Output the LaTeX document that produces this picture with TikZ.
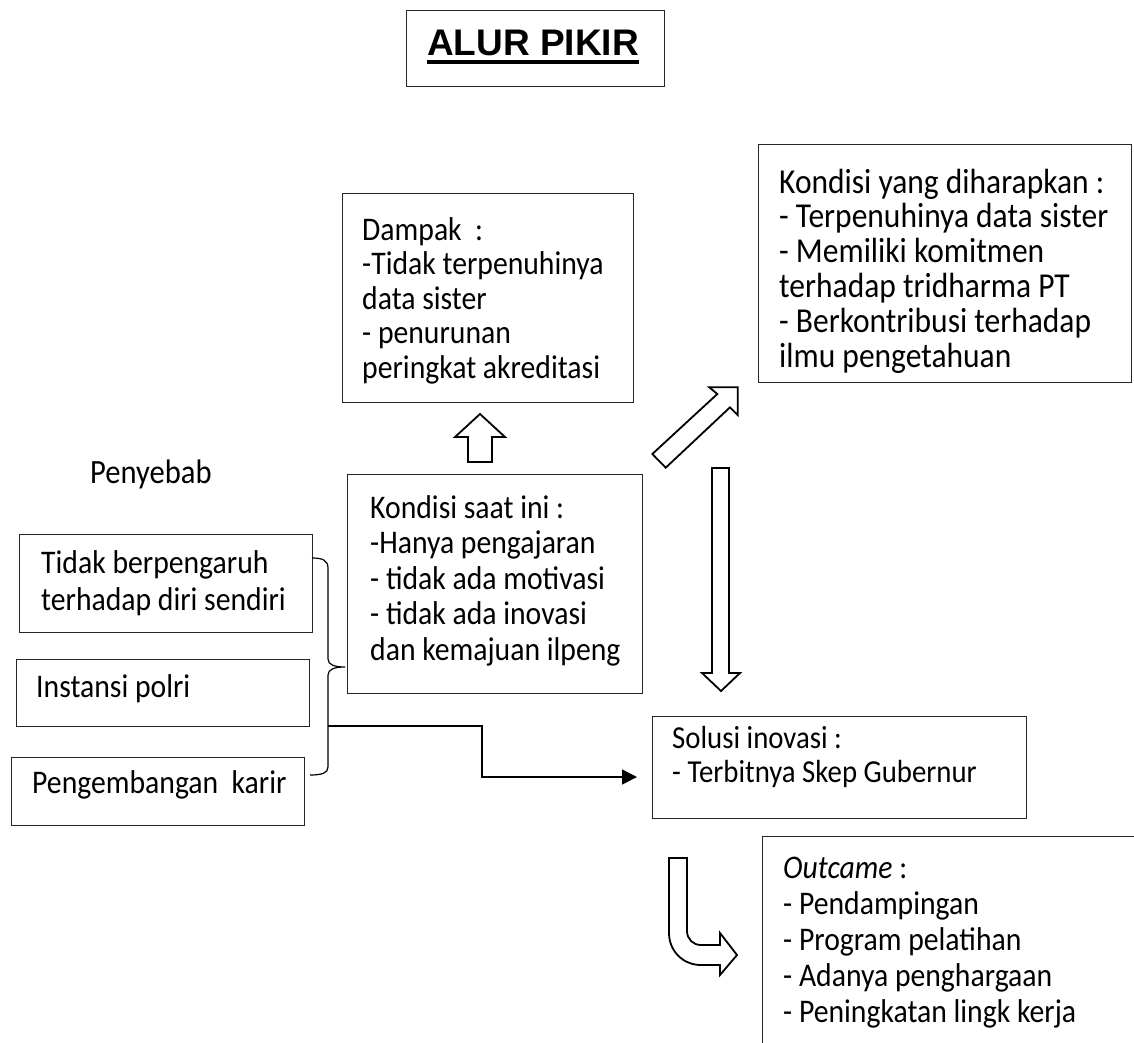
\documentclass[tikz,border=0pt]{standalone}
\usepackage{fontspec}
\setmainfont{Carlito}[FakeStretch=0.9]
\newfontfamily\titlefont{Liberation Sans}
\usetikzlibrary{arrows.meta,calc}

\tikzset{
  box/.style={draw=black!85, line width=1.2pt, rectangle, inner sep=0pt, anchor=north west},
  txt/.style={inner sep=0pt, anchor=base west, align=left, text width=400pt,
              font=\fontsize{33}{35}\selectfont,
              execute at begin node={\spaceskip=0pt\xspaceskip=0pt\relax}},
  blockarrow/.style={draw=black, line width=1.8pt, fill=white, line join=miter},
  link/.style={draw=black, line width=1.4pt},
}

\begin{document}
\begin{tikzpicture}[x=1pt,y=-1pt]
\path[use as bounding box] (0,0) rectangle (1134,1042);
\clip (0,0) rectangle (1134,1042);
\fill[white] (0,0) rectangle (1134,1042);

% title
\node[box, minimum width=258, minimum height=76] (titlebox) at (406,10) {};
\node[font=\titlefont\bfseries\fontsize{37}{40}\selectfont, inner sep=0pt, anchor=base] (title) at (533,55) {ALUR PIKIR};
\draw[line width=3.5pt] ($(title.base west)+(0,7)$) -- ($(title.base east)+(0,7)$);

% impact
\node[box, minimum width=291, minimum height=209] (dampak) at (342,193) {};
\node[txt, font=\fontsize{33}{34.5}\selectfont] (dampakT) at (362,240)
  {Dampak\ \ :\\-Tidak terpenuhinya\\data sister\\- penurunan\\peringkat akreditasi};

% expected condition
\node[box, minimum width=373, minimum height=238] (harap) at (758,144) {};
\node[txt, font=\fontsize{35}{34.8}\selectfont] (harapT) at (779,193)
  {Kondisi yang diharapkan :\\- Terpenuhinya data sister\\- Memiliki komitmen\\terhadap tridharma PT\\- Berkontribusi terhadap\\ilmu pengetahuan};

% current condition
\node[box, minimum width=295, minimum height=219] (kini) at (347,474) {};
\node[txt, font=\fontsize{33}{35.5}\selectfont] (kiniT) at (370,518)
  {Kondisi saat ini :\\-Hanya pengajaran\\- tidak ada motivasi\\- tidak ada inovasi\\dan kemajuan ilpeng};

% causes
\node[txt, font=\fontsize{34}{35}\selectfont] (penyebab) at (90,483) {Penyebab};
\node[box, minimum width=293, minimum height=98] (sebab1) at (19,534) {};
\node[txt, font=\fontsize{33}{37}\selectfont] (sebab1T) at (41,573) {Tidak berpengaruh\\terhadap diri sendiri};
\node[box, minimum width=293, minimum height=67] (sebab2) at (16,659) {};
\node[txt] (sebab2T) at (36,697) {Instansi polri};
\node[box, minimum width=293, minimum height=68] (sebab3) at (11,757) {};
\node[txt] (sebab3T) at (32,793) {Pengembangan\ \ karir};

% solution
\node[box, minimum width=374, minimum height=102] (solusi) at (652,716) {};
\node[txt, font=\fontsize{32}{34}\selectfont] (solusiT) at (672,748) {Solusi inovasi :\\- Terbitnya Skep Gubernur};

% outcome
\node[box, minimum width=420, minimum height=260] (outcome) at (762,836) {};
\node[txt, font=\fontsize{33}{36}\selectfont] (outcomeT) at (783,878)
  {\textit{Outcame} :\\- Pendampingan\\- Program pelatihan\\- Adanya penghargaan\\- Peningkatan lingk kerja};

% brace grouping the causes
\draw[link, line width=1.2pt] (312,558) .. controls (322,558) and (328,560) .. (328,568) -- (328,659)
  .. controls (328,665) and (335,667) .. (345,667)
  .. controls (335,667) and (328,669) .. (328,675) -- (328,767)
  .. controls (328,773) and (322,775) .. (310,775);
\coordinate (bracejoin) at (328,726);
\coordinate (solin) at (637,777);
\draw[link, -{Triangle[length=15pt,width=15pt]}] (bracejoin) -- ++(154,0) |- (solin);

% block arrows
\draw[blockarrow] (468,462) -- (468,437) -- (455,437) -- (480,414) -- (505,437) -- (492,437) -- (492,462) -- cycle;
\draw[blockarrow] (652.3,454) -- (717.3,394) -- (709.3,387.3) -- (737.7,387.3) -- (737.7,415) -- (730,407.3) -- (665.7,467.7) -- cycle;
\draw[blockarrow] (712,468) -- (729,468) -- (729,673) -- (740,673) -- (721,691) -- (702,673) -- (712,673) -- cycle;
\draw[blockarrow] (669,858) -- (687,858) -- (687,931) .. controls (687,939) and (693,945) .. (701,945)
  -- (720,945) -- (720,933) -- (737,955) -- (720,975) -- (720,965) -- (701,965)
  .. controls (683,965) and (669,951) .. (669,933) -- cycle;
\end{tikzpicture}
\end{document}
